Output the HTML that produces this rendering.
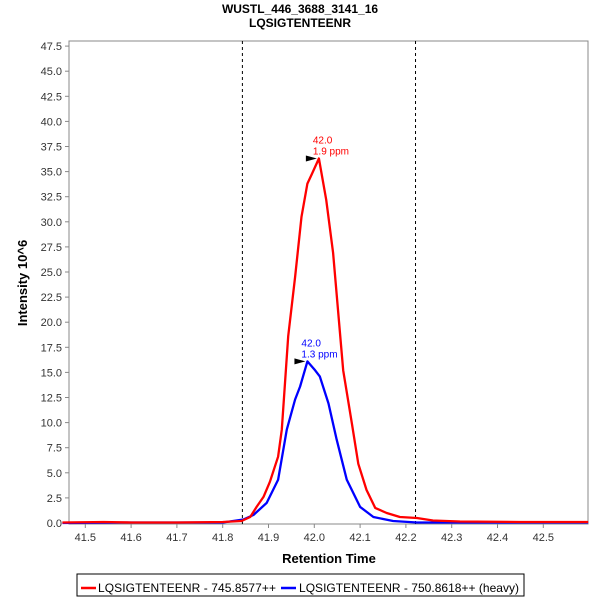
<!DOCTYPE html>
<html><head><meta charset="utf-8"><style>
body{margin:0;background:#fff;font-family:"Liberation Sans",sans-serif}
svg text{font-family:"Liberation Sans",sans-serif}
</style></head><body>
<svg id="chart" width="600" height="600">
<text x="300" y="13" text-anchor="middle" font-size="12" font-weight="bold">WUSTL_446_3688_3141_16</text>
<text x="300" y="27" text-anchor="middle" font-size="12" font-weight="bold">LQSIGTENTEENR</text>
<rect x="69" y="41" width="519" height="483" fill="#fff" stroke="#888"/>
<g id="axes"></g>
<g id="series"></g>
<text x="329" y="563" text-anchor="middle" font-size="13" font-weight="bold">Retention Time</text>
<text transform="translate(27,283) rotate(-90)" text-anchor="middle" font-size="13" font-weight="bold">Intensity 10^6</text>
<g>
<rect x="77" y="574" width="447" height="22" fill="#fff" stroke="#000"/>
<line x1="81" y1="588" x2="96" y2="588" stroke="#f00" stroke-width="2.5"/>
<text x="98" y="592" font-size="12" textLength="178">LQSIGTENTEENR - 745.8577++</text>
<line x1="281" y1="588" x2="296" y2="588" stroke="#00f" stroke-width="2.5"/>
<text x="299" y="592" font-size="12" textLength="220">LQSIGTENTEENR - 750.8618++ (heavy)</text>
</g>
</svg>
<script>
const xTicks=[41.5,41.6,41.7,41.8,41.9,42.0,42.1,42.2,42.3,42.4,42.5];
const yTicks=[0,2.5,5,7.5,10,12.5,15,17.5,20,22.5,25,27.5,30,32.5,35,37.5,40,42.5,45,47.5];
const boundaries=[41.843,42.221];
const redT=[41.45,41.54,41.60,41.70,41.80,41.841,41.860,41.874,41.889,41.903,41.921,41.929,41.943,41.958,41.972,41.985,41.994,42.010,42.026,42.041,42.063,42.082,42.096,42.114,42.133,42.158,42.187,42.224,42.259,42.318,42.45,42.598];
const redV=[0.05,0.1,0.05,0.05,0.1,0.2,0.6,1.6,2.6,4.1,6.6,9.3,18.6,24.5,30.5,33.8,34.7,36.3,32.2,26.9,15.2,9.9,5.9,3.3,1.5,1.0,0.6,0.5,0.25,0.15,0.1,0.1];
const blueT=[41.45,41.60,41.70,41.80,41.845,41.867,41.896,41.921,41.940,41.958,41.969,41.985,42.002,42.012,42.031,42.049,42.071,42.100,42.129,42.172,42.224,42.40,42.598];
const blueV=[0.0,0.05,0.05,0.05,0.35,0.8,2.0,4.3,9.3,12.3,13.6,16.1,15.2,14.6,11.9,8.3,4.3,1.6,0.6,0.2,0.05,0.05,0.05];
const redPeak={t:42.010,v:36.3,label:"42.0",ppm:"1.9 ppm"};
const bluePeak={t:41.985,v:16.1,label:"42.0",ppm:"1.3 ppm"};
const NS="http://www.w3.org/2000/svg";
const X=t=>314.3+(t-42)*458;
const Y=v=>523-v*10.04;
function mk(tag,attrs,parent,text){const e=document.createElementNS(NS,tag);for(const k in attrs)e.setAttribute(k,attrs[k]);if(text!==undefined)e.textContent=text;parent.appendChild(e);return e;}
const axes=document.getElementById('axes'),ser=document.getElementById('series');
xTicks.forEach(t=>{const x=X(t);
 const l=mk('line',{x1:x,y1:524,x2:x,y2:528,stroke:'#888'},axes);
 
 
 const tx=mk('text',{x:x,y:541,'text-anchor':'middle','font-size':11,fill:'#333'},axes,t.toFixed(1));
 
 });
yTicks.forEach(v=>{const y=Y(v);
 const l=mk('line',{x1:65,y1:y,x2:69,y2:y,stroke:'#888'},axes);
 
 
 const tx=mk('text',{x:62,y:y+4,'text-anchor':'end','font-size':11,fill:'#333'},axes,v.toFixed(1));
 
 });
boundaries.forEach(t=>{const l=mk('line',{x1:X(t),y1:41,x2:X(t),y2:524,stroke:'#000','stroke-dasharray':'3,3'},ser);
 
 });
function line(ts,vs,color,name){const d=ts.map((t,i)=>(i?'L':'M')+X(t).toFixed(1)+','+Y(vs[i]).toFixed(1)).join('');
 const p=mk('path',{d:d,fill:'none',stroke:color,'stroke-width':2.3,'stroke-linejoin':'round'},ser);
 
 }
line(blueT,blueV,'#00f','heavy-series-line');
line(redT,redV,'#f00','light-series-line');
function peak(pk,color,name){const x=X(pk.t),y=Y(pk.v);
 const m=mk('path',{d:`M${x-13},${y-3}L${x-2},${y}L${x-13},${y+3}Z`,fill:'#000'},ser);
 
 
 const a=mk('text',{x:x-6,y:y-15,'font-size':10,fill:color},ser,pk.label);
 
 
 const b=mk('text',{x:x-6,y:y-4,'font-size':10,fill:color},ser,pk.ppm);
 
 }
peak(redPeak,'#f00','light-peak');
peak(bluePeak,'#00f','heavy-peak');
</script>
</body></html>
